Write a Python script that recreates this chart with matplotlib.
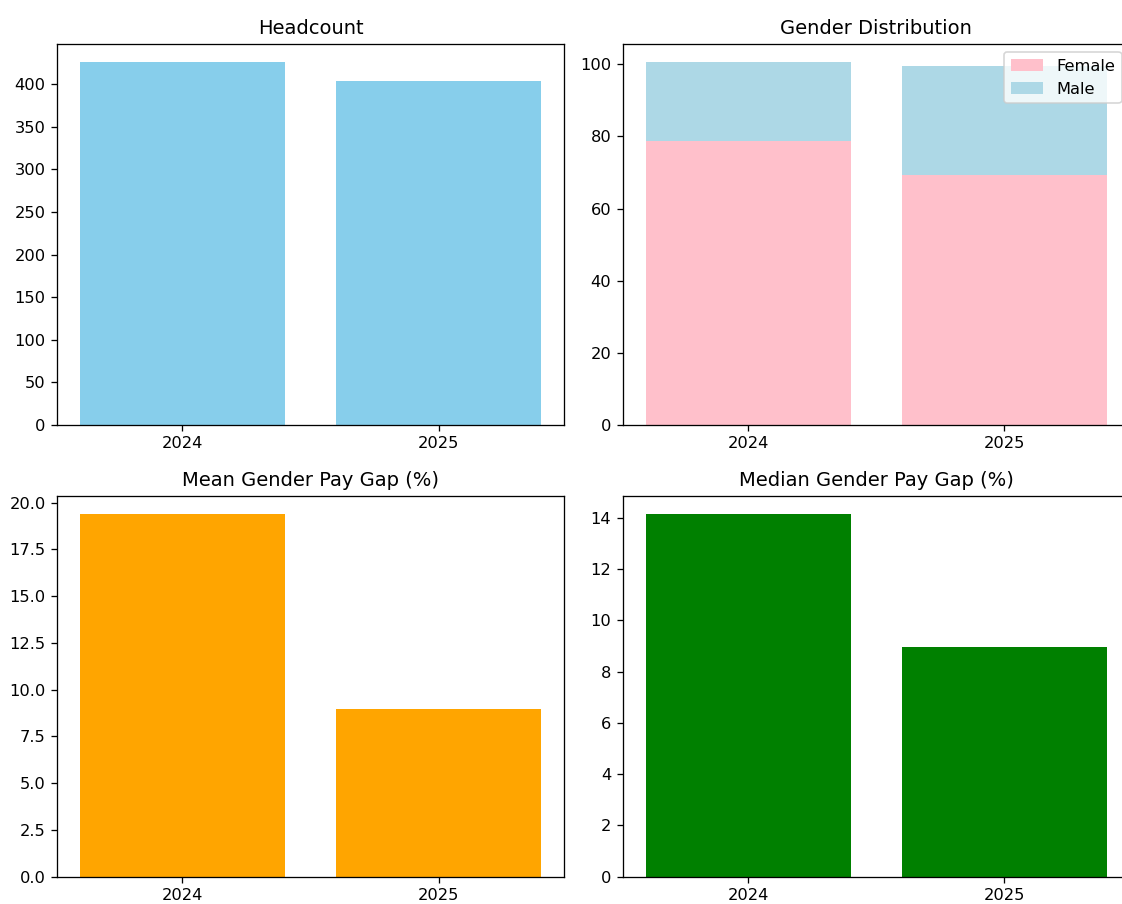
import matplotlib
matplotlib.use("Agg")
import matplotlib.pyplot as plt

# Yearly gender pay gap summary
years = ["2024", "2025"]
headcount = [426, 404]
female_pct = [78.8, 69.2]
male_pct = [21.8, 30.3]
mean_gap = [19.4, 8.95]
median_gap = [14.15, 8.95]

DPI = 117
fig = plt.figure(figsize=(1122 / DPI, 904 / DPI), dpi=DPI)

# axes laid out by hand: [left, bottom, width, height] in figure fractions
w = 507 / 1122
h = 381 / 904
left_x = 57 / 1122
right_x = 622.7 / 1122
top_y = 1 - 425 / 904
bot_y = 1 - 876.7 / 904

ax1 = fig.add_axes([left_x, top_y, w, h])
ax2 = fig.add_axes([right_x, top_y, w, h])
ax3 = fig.add_axes([left_x, bot_y, w, h])
ax4 = fig.add_axes([right_x, bot_y, w, h])

ax1.bar(years, headcount, color="skyblue")
ax1.set_title("Headcount")

ax2.bar(years, female_pct, color="pink", label="Female")
ax2.bar(years, male_pct, bottom=female_pct, color="lightblue", label="Male")
ax2.set_title("Gender Distribution")
ax2.legend(loc="upper right")

ax3.bar(years, mean_gap, color="orange")
ax3.set_title("Mean Gender Pay Gap (%)")

ax4.bar(years, median_gap, color="green")
ax4.set_title("Median Gender Pay Gap (%)")

fig.savefig("out.png", dpi=DPI)
